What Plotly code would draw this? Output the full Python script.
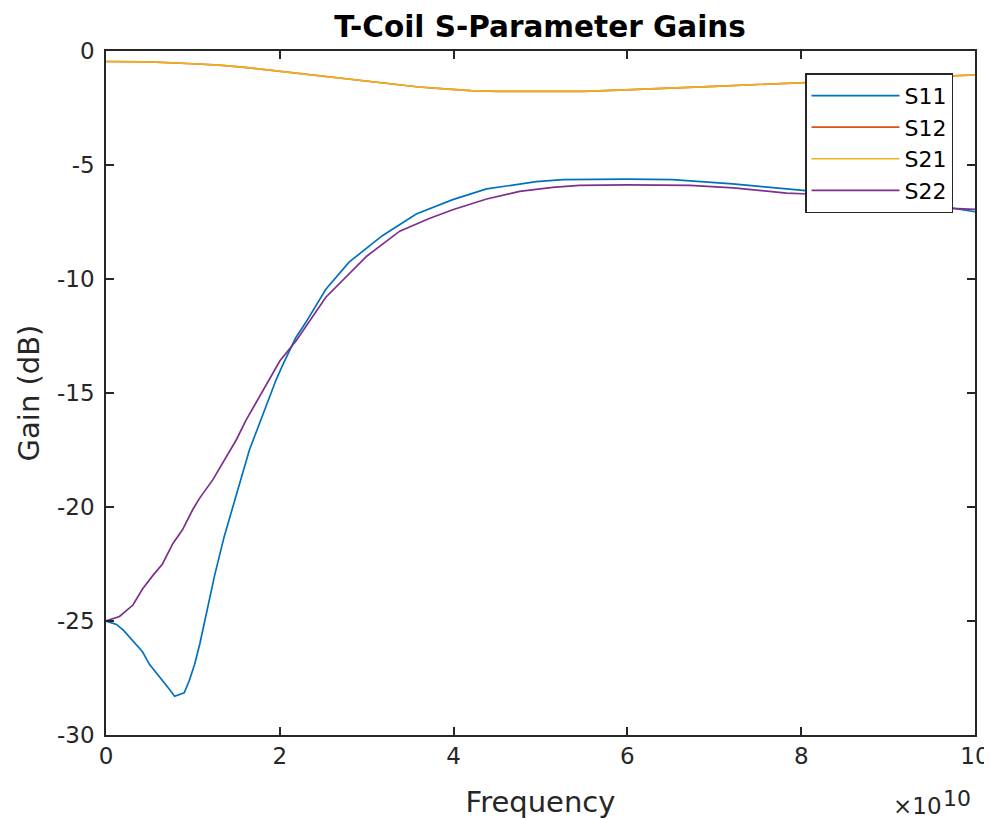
import plotly.graph_objects as go

# Frequencies in units of 1e10 Hz, gains in dB
freq_s11 = [0, 0.12, 0.2, 0.31, 0.42, 0.5, 0.62, 0.72, 0.79, 0.9, 0.96, 1.02, 1.08,
            1.15, 1.25, 1.36, 1.42, 1.5, 1.57, 1.65, 1.73, 1.84, 1.96, 2.03, 2.18,
            2.3, 2.53, 2.8, 3.18, 3.57, 3.99, 4.38, 4.76, 4.95, 5.26, 6.0, 6.52,
            6.91, 7.21, 7.52, 7.83, 8.02, 8.5, 9.0, 9.6, 10]
gain_s11 = [-25.0, -25.15, -25.4, -25.9, -26.35, -26.9, -27.45, -27.95, -28.3, -28.15,
            -27.6, -26.9, -26.0, -24.7, -23.0, -21.3, -20.5, -19.4, -18.5, -17.5,
            -16.7, -15.6, -14.4, -13.8, -12.6, -11.9, -10.45, -9.25, -8.1, -7.15,
            -6.52, -6.05, -5.82, -5.73, -5.64, -5.62, -5.64, -5.73, -5.83, -5.94,
            -6.05, -6.11, -6.25, -6.45, -6.8, -7.05]

freq_s22 = [0, 0.155, 0.31, 0.42, 0.54, 0.65, 0.77, 0.88, 1.0, 1.08, 1.23, 1.39, 1.5,
            1.61, 1.73, 1.88, 2.0, 2.19, 2.53, 3.0, 3.38, 3.72, 3.99, 4.38, 4.76,
            5.14, 5.45, 6.0, 6.72, 7.22, 7.53, 7.83, 8.02, 8.5, 9.0, 9.6, 10]
gain_s22 = [-25.0, -24.8, -24.3, -23.6, -23.0, -22.5, -21.6, -21.0, -20.1, -19.6,
            -18.8, -17.8, -17.05, -16.2, -15.4, -14.4, -13.6, -12.7, -10.8, -9.0,
            -7.9, -7.35, -6.96, -6.49, -6.16, -5.98, -5.89, -5.87, -5.89, -6.0,
            -6.11, -6.23, -6.26, -6.35, -6.5, -6.88, -6.95]

freq_s21 = [0, 0.5, 1.0, 1.3, 1.6, 1.9, 2.1, 2.4, 2.7, 3.0, 3.3, 3.6, 3.9, 4.2, 4.5,
            5.0, 5.5, 5.9, 6.3, 6.7, 7.0, 7.5, 8.0, 8.5, 9.0, 9.5, 10]
gain_s21 = [-0.46, -0.48, -0.56, -0.62, -0.72, -0.85, -0.95, -1.08, -1.22, -1.35,
            -1.47, -1.58, -1.66, -1.74, -1.77, -1.77, -1.77, -1.72, -1.67, -1.6,
            -1.55, -1.47, -1.4, -1.32, -1.24, -1.13, -1.05]

# S12 sits exactly under S21 (reciprocal network)
freq_s12 = freq_s21
gain_s12 = gain_s21

xtick_vals = [0, 2, 4, 6, 8, 10]
ytick_vals = [0, -5, -10, -15, -20, -25, -30]

colors = ['#0072BD', '#D95319', '#EDB120', '#7E2F8E']
names = ['S11', 'S12', 'S21', 'S22']
series = [(freq_s11, gain_s11), (freq_s12, gain_s12),
          (freq_s21, gain_s21), (freq_s22, gain_s22)]

data = []
for name, color, (f, g) in zip(names, colors, series):
    data.append(go.Scatter(x=[v * 1e10 for v in f], y=g, mode='lines', name=name,
                           line=dict(color=color, width=1.7)))

axis_color = '#262626'
font_family = 'DejaVu Sans'

# the page body adds an 8px margin, so the figure is 8px smaller than the window
layout = go.Layout(
    width=984, height=811,
    margin=dict(l=98, r=17, t=43, b=84, autoexpand=False),
    paper_bgcolor='white', plot_bgcolor='white',
    font=dict(family=font_family, size=23, color=axis_color),
    title=dict(text='<b>T-Coil S-Parameter Gains</b>', x=0.5407, xanchor='center',
               y=0.9766, yanchor='middle', font=dict(size=29.5, color='black')),
    xaxis=dict(range=[0, 1e11], tickvals=[v * 1e10 for v in xtick_vals],
               ticktext=[str(v) for v in xtick_vals], automargin=False,
               showline=True, linecolor=axis_color, linewidth=1.5, mirror='ticks',
               ticks='inside', ticklen=8, tickwidth=1.5, tickcolor=axis_color,
               showgrid=False, zeroline=False,
               title=dict(text='Frequency', standoff=25, font=dict(size=29))),
    yaxis=dict(range=[-30, 0], tickvals=ytick_vals,
               ticktext=[str(v) for v in ytick_vals], automargin=False,
               ticklabelstandoff=5,
               showline=True, linecolor=axis_color, linewidth=1.5, mirror='ticks',
               ticks='inside', ticklen=8, tickwidth=1.5, tickcolor=axis_color,
               showgrid=False, zeroline=False,
               title=dict(text='Gain (dB)', standoff=9, font=dict(size=29))),
    legend=dict(x=0.9747, xanchor='right', y=0.9675, yanchor='top',
                bgcolor='white', bordercolor=axis_color, borderwidth=1.5,
                font=dict(size=22, color='black'), itemwidth=88,
                tracegroupgap=0),
    showlegend=True,
    # axis exponent, drawn MATLAB style as x10 with a raised 10
    annotations=[dict(text='\u00d710', xref='paper', yref='paper',
                      x=0.9338, y=-0.1031, xanchor='center', yanchor='middle',
                      showarrow=False, font=dict(size=23, color=axis_color)),
                 dict(text='10', xref='paper', yref='paper',
                      x=0.9798, y=-0.0928, xanchor='center', yanchor='middle',
                      showarrow=False, font=dict(size=22, color=axis_color))],
)

fig = go.Figure(data=data, layout=layout)
fig.write_html('out.html')
